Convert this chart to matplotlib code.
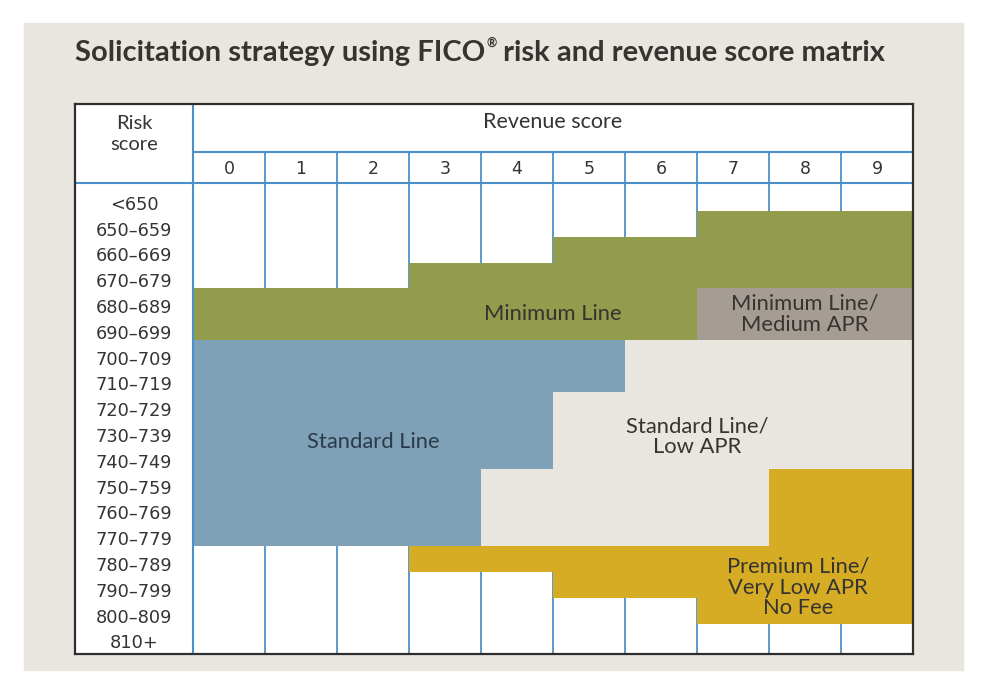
import matplotlib
matplotlib.use("Agg")
import matplotlib.pyplot as plt
import numpy as np
from matplotlib.patches import Rectangle

# ---- data -------------------------------------------------------------
revenue_scores = [str(i) for i in range(10)]
risk_bands = [
    "<650", "650–659", "660–669", "670–679", "680–689", "690–699",
    "700–709", "710–719", "720–729", "730–739", "740–749", "750–759",
    "760–769", "770–779", "780–789", "790–799", "800–809", "810+",
]

# row index (0 = "<650") where each zone starts / ends, one per revenue score
minimum_line_start = [4, 4, 4, 3, 3, 2, 2, 1, 1, 1]
minimum_line_end = [6, 6, 6, 6, 6, 6, 6, 4, 4, 4]
medium_apr_end = [6, 6, 6, 6, 6, 6, 6, 6, 6, 6]
standard_line_end = [14, 14, 14, 14, 11, 8, 6, 6, 6, 6]
low_apr_end = [14, 14, 14, 14, 14, 14, 14, 14, 11, 11]
premium_end = [14, 14, 14, 15, 15, 16, 16, 17, 17, 17]

zone_names = [
    "Minimum Line",
    "Minimum Line/\nMedium APR",
    "Standard Line",
    "Standard Line/\nLow APR",
    "Premium Line/\nVery Low APR\nNo Fee",
]

# ---- style / layout (pixels) -----------------------------------------
W, H = 985, 692
BEIGE = "#e9e5df"
GREEN = "#939b4c"
GREY = "#a59c94"
BLUE = "#7ea1b7"
GOLD = "#d6ac25"
GRID = "#4a91cc"
INK = "#363431"

TABLE_L, TABLE_R, TABLE_T, TABLE_B = 75, 913, 104, 654
GRID_L = 193
HEAD_LINE, DIGIT_B = 152, 183
ROW0, ROW_H = 185.2, 25.8
COL_W = (TABLE_R - GRID_L) / 10
RISK_W = (GRID_L - TABLE_L) / COL_W


def row(px):
    return (px - ROW0) / ROW_H


fig = plt.figure(figsize=(W / 100, H / 100), dpi=100)
fig.patches.append(
    Rectangle((24 / W, 1 - 670 / H), (963 - 24) / W, (670 - 23) / H,
              transform=fig.transFigure, color=BEIGE, zorder=-10)
)

ax = fig.add_axes([TABLE_L / W, 1 - TABLE_B / H,
                   (TABLE_R - TABLE_L) / W, (TABLE_B - TABLE_T) / H])
ax.set_zorder(1)
ax.set_xlim(-RISK_W, 10)
ax.set_ylim(row(TABLE_B), row(TABLE_T))
ax.set_facecolor("white")
ax.set_xticks([])
ax.set_yticks([])
for sp in ax.spines.values():
    sp.set_color("#2e2e2e")
    sp.set_linewidth(1.6)
    sp.set_zorder(10)

# grid lines (only visible in the white cells)
y_bot = row(TABLE_B)
ax.vlines(range(1, 10), row(HEAD_LINE), y_bot, color=GRID, lw=1.3, zorder=1)
ax.vlines(0, row(TABLE_T), y_bot, color=GRID, lw=1.5, zorder=4)
ax.hlines(row(HEAD_LINE), 0, 10, color=GRID, lw=1.5, zorder=1)
ax.hlines(row(DIGIT_B), -RISK_W, 10, color=GRID, lw=1.5, zorder=1)


def zone(top, bottom, color):
    xs = np.arange(11)
    ax.fill_between(xs, top + [top[-1]], bottom + [bottom[-1]], step="post",
                    color=color, lw=0, antialiased=False, zorder=2)


zone(minimum_line_start, minimum_line_end, GREEN)
zone(minimum_line_end, medium_apr_end, GREY)
zone(medium_apr_end, standard_line_end, BLUE)
zone(standard_line_end, low_apr_end, BEIGE)
zone(low_apr_end, premium_end, GOLD)

# header texts
ax.text(-RISK_W / 2, row(134), "Risk\nscore", ha="center", va="center",
        fontsize=14.5, family="Lato", color=INK, linespacing=1.35)
ax.text(5, row(122), "Revenue score", ha="center", va="center",
        fontsize=15.5, family="Lato", color=INK)
for i, s in enumerate(revenue_scores):
    ax.text(i + 0.5, row(169), s, ha="center", va="center",
            fontsize=12.5, color=INK)

# risk band labels
for i, band in enumerate(risk_bands):
    ax.text(-RISK_W / 2, i + 0.68, band, ha="center", va="center_baseline",
            fontsize=12.8, color=INK)

# zone labels
zone_pos = [(5, 5.0), (8.5, 5.0), (2.5, 9.95), (7.0, 9.75), (8.4, 15.6)]
zone_ink = [INK, INK, "#2c3b4a", INK, INK]
for name, (x, y), c in zip(zone_names, zone_pos, zone_ink):
    ax.text(x, y, name, ha="center", va="center", fontsize=15.8,
            family="Lato", color=c, linespacing=1.05, zorder=5)

# title with superscript registered sign
fig.canvas.draw()
r = fig.canvas.get_renderer()
t1 = fig.text(75 / W, 1 - 61 / H, "Solicitation strategy using FICO",
              fontsize=21, family="Lato", weight="bold", color=INK,
              va="baseline")
x1 = t1.get_window_extent(r).x1
t2 = fig.text(x1 / W + 0.001, 1 - 47 / H, "®", fontsize=9, family="Lato",
              weight="bold", color=INK, va="baseline")
x2 = t2.get_window_extent(r).x1
fig.text(x2 / W, 1 - 61 / H, " risk and revenue score matrix",
         fontsize=21, family="Lato", weight="bold", color=INK, va="baseline")

fig.savefig("out.png", dpi=100)
